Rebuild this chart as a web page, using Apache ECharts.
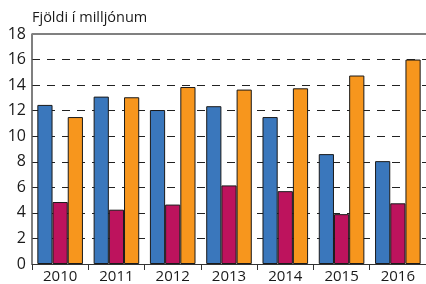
<!DOCTYPE html>
<html>
<head>
<meta charset="utf-8">
<script src="https://cdn.jsdelivr.net/npm/echarts@6/dist/echarts.min.js"></script>
<style>
  html, body { margin: 0; padding: 0; background: #fff; }
  #chart { width: 426px; height: 284px; }
</style>
</head>
<body>
<div id="chart"></div>
<script>
// values
const years = ['2010', '2011', '2012', '2013', '2014', '2015', '2016'];
const blueVals = [12.45, 13.1, 12.05, 12.35, 11.5, 8.6, 8.05];
const redVals = [4.85, 4.25, 4.65, 6.15, 5.7, 3.9, 4.75];
const orangeVals = [11.5, 13.05, 13.85, 13.65, 13.75, 14.75, 16.0];

const font = '"Open Sans", "Noto Sans", sans-serif';

function bar(name, data, color) {
  return {
    name: name,
    type: 'bar',
    data: data,
    barGap: '0%',
    barCategoryGap: '19%',
    itemStyle: { color: color, borderColor: '#1a1a1a', borderWidth: 1 },
    emphasis: { disabled: true }
  };
}

const chart = echarts.init(document.getElementById('chart'), null, { renderer: 'canvas' });
chart.setOption({
  animation: false,
  backgroundColor: '#fff',
  title: {
    text: 'Fjöldi í milljónum',
    left: 32, top: 10, padding: 0,
    textStyle: { fontFamily: font, fontSize: 14.5, fontWeight: 'normal', color: '#1a1a1a' }
  },
  grid: { left: 32, top: 34, width: 397, height: 230, containLabel: false },
  xAxis: {
    type: 'category',
    data: years,
    axisLine: { lineStyle: { color: '#333', width: 1 } },
    axisTick: { show: true, length: 6, lineStyle: { color: '#333' } },
    axisLabel: { fontFamily: font, fontSize: 15, color: '#1a1a1a', margin: 5 }
  },
  yAxis: {
    type: 'value',
    min: 0, max: 18, interval: 2,
    axisLine: { show: true, lineStyle: { color: '#555', width: 1.5 } },
    axisTick: { show: false },
    axisLabel: { fontFamily: font, fontSize: 16, color: '#1a1a1a', margin: 6 },
    splitLine: { show: true, lineStyle: { color: '#222', type: [8, 7], width: 1 } }
  },
  series: [
    bar('blue', blueVals, '#3A77BC'),
    bar('red', redVals, '#BD135D'),
    bar('orange', orangeVals, '#F7961D'),
    {
      type: 'line', data: [], silent: true,
      markLine: {
        symbol: 'none', silent: true, label: { show: false },
        lineStyle: { color: '#808080', type: 'solid', width: 2 },
        data: [{ yAxis: 18 }]
      }
    }
  ]
});
</script>
</body>
</html>
